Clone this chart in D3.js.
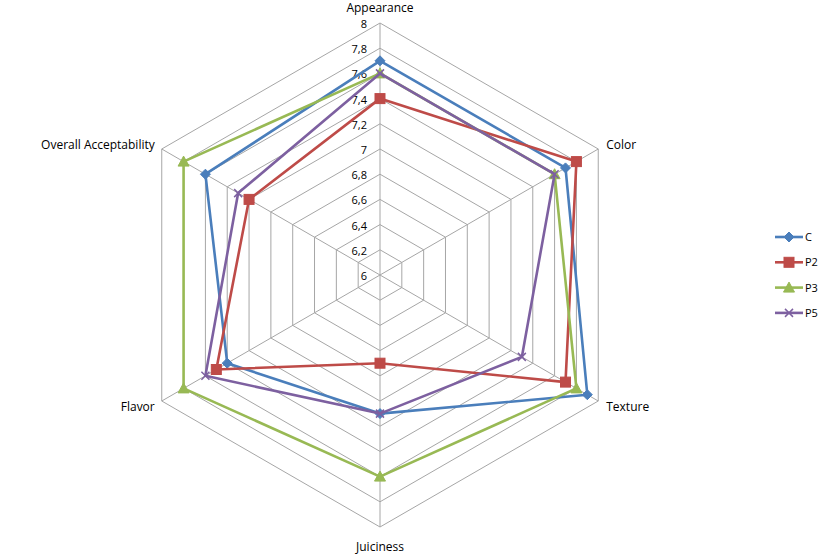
<!DOCTYPE html>
<html><head><meta charset="utf-8">
<script src="https://cdn.jsdelivr.net/npm/d3@7"></script>
<style>body{margin:0;background:#fff}svg{display:block}text{font-family:"Open Sans","Liberation Sans",sans-serif;font-size:11px;fill:#000}.ax{font-size:12px}</style>
</head><body><svg id="c" width="827" height="554"></svg>
<script>
const axes = ["Appearance","Color","Texture","Juiciness","Flavor","Overall Acceptability"];
const ticks = [6,6.2,6.4,6.6,6.8,7,7.2,7.4,7.6,7.8,8];
const tickLabels = ["6","6,2","6,4","6,6","6,8","7","7,2","7,4","7,6","7,8","8"];
const seriesNames = ["C","P2","P3","P5"];
const valuesC  = [7.7, 7.7, 7.9, 7.1, 7.4, 7.6];
const valuesP2 = [7.4, 7.8, 7.7, 6.7, 7.5, 7.2];
const valuesP3 = [7.6, 7.6, 7.8, 7.6, 7.8, 7.8];
const valuesP5 = [7.6, 7.6, 7.3, 7.1, 7.6, 7.3];
const allValues = [valuesC, valuesP2, valuesP3, valuesP5];
const colors = ["#4a7ebb","#be4b48","#98b954","#7d60a0"];
const symbols = ["diamond","square","triangle","cross"];

const svg = d3.select("#c");
const cx = 380, cy = 275, R = 252;
const r = d3.scaleLinear().domain([6,8]).range([0,R]);
const ang = d3.scalePoint().domain(axes).range([0, 2*Math.PI*5/6]);
const pt = (a,v)=>{const t=ang(a);return [cx+r(v)*Math.sin(t), cy-r(v)*Math.cos(t)];};

const g = svg.append("g");
ticks.slice(1).forEach(t=>{
  g.append("polygon").attr("points", axes.map(a=>pt(a,t).join(",")).join(" "))
   .attr("fill","none").attr("stroke","#a6a6a6").attr("stroke-width",1);
});
axes.forEach(a=>{
  const p=pt(a,8);
  g.append("line").attr("x1",cx).attr("y1",cy).attr("x2",p[0]).attr("y2",p[1]).attr("stroke","#a6a6a6");
});
ticks.forEach((t,i)=>{
  g.append("text").attr("x",cx-13).attr("y",cy-r(t)+5).attr("text-anchor","end").text(tickLabels[i]);
});
const labelPos = {
  "Appearance":{dx:0,dy:-15,anchor:"middle"},
  "Color":{dx:8,dy:-4,anchor:"start"},
  "Texture":{dx:8,dy:6,anchor:"start"},
  "Juiciness":{dx:0,dy:20,anchor:"middle"},
  "Flavor":{dx:-7,dy:6,anchor:"end"},
  "Overall Acceptability":{dx:-7,dy:-4,anchor:"end"}
};
axes.forEach(a=>{
  const p=pt(a,8), o=labelPos[a];
  g.append("text").attr("class","ax").attr("x",p[0]+o.dx).attr("y",p[1]+o.dy+4).attr("text-anchor",o.anchor).text(a);
});

function marker(sel, k, x, y){
  const c=colors[k];
  if(symbols[k]==="diamond"){
    sel.append("path").attr("d",`M${x},${y-5}L${x+5},${y}L${x},${y+5}L${x-5},${y}Z`).attr("fill",c).attr("stroke",c);
  } else if(symbols[k]==="square"){
    sel.append("rect").attr("x",x-5).attr("y",y-5).attr("width",10).attr("height",10).attr("fill",c).attr("stroke",c);
  } else if(symbols[k]==="triangle"){
    sel.append("path").attr("d",`M${x},${y-5.5}L${x+5.5},${y+4.5}L${x-5.5},${y+4.5}Z`).attr("fill",c).attr("stroke",c);
  } else {
    sel.append("path").attr("d",`M${x-4},${y-4}L${x+4},${y+4}M${x-4},${y+4}L${x+4},${y-4}`).attr("stroke",c).attr("stroke-width",1.5);
  }
}

const line = d3.line().curve(d3.curveLinearClosed);
allValues.forEach((vals,k)=>{
  const pts = axes.map((a,i)=>pt(a,vals[i]));
  g.append("path").attr("d",line(pts)).attr("fill","none").attr("stroke",colors[k]).attr("stroke-width",2.6).attr("stroke-linejoin","round");
  pts.forEach(p=>marker(g,k,p[0],p[1]));
});

const leg = svg.append("g");
seriesNames.forEach((n,k)=>{
  const y = 237 + k*25.3;
  leg.append("line").attr("x1",775).attr("x2",803).attr("y1",y).attr("y2",y).attr("stroke",colors[k]).attr("stroke-width",2.6);
  marker(leg,k,789,y);
  leg.append("text").attr("x",805).attr("y",y+4).text(n);
});
</script></body></html>
